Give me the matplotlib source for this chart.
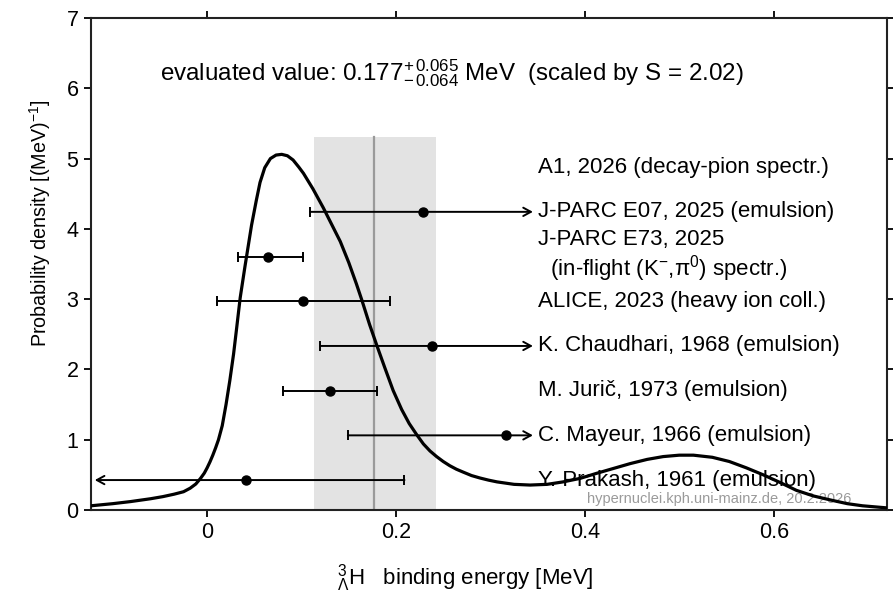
import numpy as np
import matplotlib
matplotlib.use("Agg")
import matplotlib.pyplot as plt

plt.rcParams['font.family'] = ['Liberation Sans', 'DejaVu Sans']
plt.rcParams['mathtext.fontset'] = 'custom'
plt.rcParams['mathtext.rm'] = 'Liberation Sans'
plt.rcParams['mathtext.it'] = 'Liberation Sans:italic'
plt.rcParams['mathtext.bf'] = 'Liberation Sans:bold'

# ideogram (probability density) traced along the binding energy axis
curve_x = [-0.123, -0.100, -0.081, -0.060, -0.047, -0.035, -0.025, -0.018, -0.012, -0.007,
           -0.003, 0.000, 0.003, 0.006, 0.009, 0.012, 0.016, 0.020, 0.024, 0.028,
           0.031, 0.035, 0.040, 0.047, 0.052, 0.056, 0.061, 0.067, 0.073, 0.079,
           0.085, 0.091, 0.097, 0.102, 0.112, 0.123, 0.132, 0.141, 0.150, 0.158,
           0.164, 0.172, 0.180, 0.188, 0.197, 0.206, 0.214, 0.222, 0.229, 0.236,
           0.243, 0.250, 0.257, 0.264, 0.271, 0.280, 0.289, 0.298, 0.307, 0.325,
           0.342, 0.360, 0.377, 0.395, 0.412, 0.430, 0.448, 0.466, 0.483, 0.500,
           0.515, 0.535, 0.553, 0.571, 0.589, 0.607, 0.624, 0.642, 0.661, 0.678,
           0.694, 0.720]
curve_y = [0.06, 0.09, 0.12, 0.16, 0.19, 0.225, 0.26, 0.31, 0.37, 0.45,
           0.525, 0.60, 0.685, 0.78, 0.885, 1.00, 1.20, 1.50, 1.84, 2.22,
           2.56, 3.02, 3.46, 4.05, 4.40, 4.66, 4.87, 5.00, 5.05, 5.06,
           5.04, 4.98, 4.88, 4.79, 4.57, 4.30, 4.06, 3.82, 3.52, 3.22,
           2.98, 2.64, 2.33, 2.03, 1.70, 1.43, 1.23, 1.07, 0.94, 0.84,
           0.76, 0.69, 0.63, 0.58, 0.54, 0.49, 0.455, 0.425, 0.40, 0.365,
           0.355, 0.365, 0.40, 0.45, 0.52, 0.59, 0.66, 0.72, 0.76, 0.78,
           0.78, 0.75, 0.69, 0.60, 0.50, 0.39, 0.28, 0.20, 0.14, 0.09,
           0.06, 0.03]

# evaluated value and its (scaled) uncertainty
evaluated = 0.177
eval_plus = 0.065
eval_minus = 0.064

# measurements, listed from top row to bottom row
labels = ["A1, 2026 (decay-pion spectr.)",
          "J-PARC E07, 2025 (emulsion)",
          "J-PARC E73, 2025\n  (in-flight (K$^{-}$,π$^{0}$) spectr.)",
          "ALICE, 2023 (heavy ion coll.)",
          "K. Chaudhari, 1968 (emulsion)",
          "M. Jurič, 1973 (emulsion)",
          "C. Mayeur, 1966 (emulsion)",
          "Y. Prakash, 1961 (emulsion)"]
values = [np.nan, 0.229, 0.064, 0.102, 0.238, 0.130, 0.317, 0.041]
err_lo = [np.nan, 0.120, 0.031, 0.092, 0.118, 0.050, 0.168, 0.168]
err_hi = [np.nan, 0.120, 0.037, 0.092, 0.118, 0.050, 0.168, 0.168]

fig = plt.figure(figsize=(8.93, 5.99), dpi=100)
ax = fig.add_axes([91 / 893, 1 - 510 / 599, 796 / 893, 492 / 599])
ax.set_xlim(-0.123, 0.72)
ax.set_ylim(0, 7)

# shaded band of the evaluated value
band_top = 5.31
ax.fill_between([evaluated - eval_minus, evaluated + eval_plus], 0, band_top,
                color='#e3e3e3', lw=0, zorder=0)
ax.plot([evaluated, evaluated], [0, band_top], color='#9a9a9a', lw=1.6, zorder=1)

ax.plot(curve_x, curve_y, color='black', lw=2.3, solid_joinstyle='round', zorder=3)

# error bars, cut with an arrow where they run past the label column
x_right = 0.345
x_left = -0.119
label_x = 0.350
row0, row_step = 0.426, 0.636
n = len(labels)
bar_kw = dict(color='black', lw=1.4, zorder=4)
arrow_kw = dict(arrowstyle='->,head_length=0.55,head_width=0.3', color='black',
                lw=1.4, shrinkA=0, shrinkB=0)
for i, (lab, v, lo, hi) in enumerate(zip(labels, values, err_lo, err_hi)):
    y = row0 + (n - 1 - i) * row_step
    ax.text(label_x, y, lab, fontsize=16, ha='left', va='center',
            linespacing=1.12, zorder=5)
    if np.isnan(v):
        continue
    a, b = v - lo, v + hi
    if b > x_right:
        ax.annotate('', xy=(x_right, y), xytext=(a, y), arrowprops=arrow_kw, zorder=4)
        ax.plot([a], [y], marker='|', ms=7.5, mew=1.4, color='black', zorder=4)
    elif a < x_left:
        ax.annotate('', xy=(x_left, y), xytext=(b, y), arrowprops=arrow_kw, zorder=4)
        ax.plot([b], [y], marker='|', ms=7.5, mew=1.4, color='black', zorder=4)
    else:
        ax.plot([a, b], [y, y], **bar_kw)
        ax.plot([a, b], [y, y], ls='none', marker='|', ms=7.5, mew=1.4,
                color='black', zorder=4)
    ax.plot([v], [y], 'o', color='black', ms=6.5, zorder=5)

ax.text(-0.0497, 6.22,
        "evaluated value: %.3f$^{+\\,%.3f}_{-\\,%.3f}$ MeV  (scaled by S = 2.02)"
        % (evaluated, eval_plus, eval_minus),
        fontsize=17.4, ha='left', va='center')

ax.text(0.6825, 0.156, "hypernuclei.kph.uni-mainz.de, 20.2.2026", fontsize=10.5,
        color='#9a9a9a', ha='right', va='center', zorder=2)

ax.set_xticks([0, 0.2, 0.4, 0.6])
ax.set_xticklabels(['0', '0.2', '0.4', '0.6'])
ax.set_yticks(range(8))
ax.tick_params(direction='out', length=5, width=1.3, top=True, right=True,
               labeltop=False, labelright=False, labelsize=15.5, pad=4)
for s in ax.spines.values():
    s.set_linewidth(1.5)
    s.set_color('#222222')

fig.text(465 / 893, 1 - 578 / 599, "$^{3}_{\\Lambda}$H   binding energy [MeV]",
         fontsize=16, ha='center', va='center')
fig.text(40 / 893, 1 - 223 / 599, "Probability density [(MeV)$^{-1}$]",
         fontsize=14.2, rotation=90, ha='center', va='center')

fig.savefig('out.png', dpi=100)
